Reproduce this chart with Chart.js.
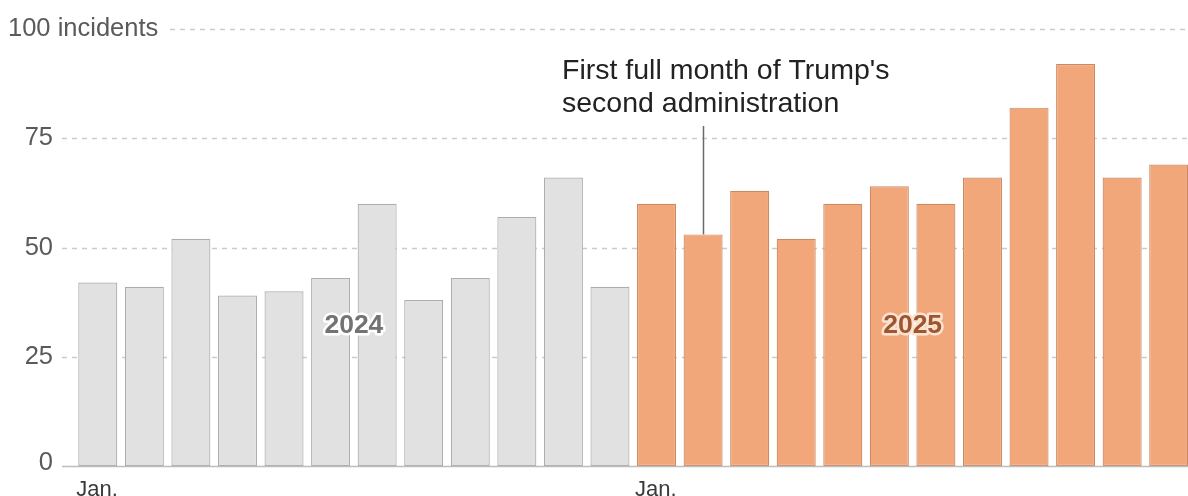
<!DOCTYPE html>
<html>
<head>
<meta charset="utf-8">
<script src="https://cdn.jsdelivr.net/npm/chart.js@4.4.1/dist/chart.umd.min.js"></script>
<style>
html,body{margin:0;padding:0;background:#fff;overflow:hidden;}
#wrap{width:1192px;height:496px;}
</style>
</head>
<body>
<div id="wrap"><canvas id="c" width="1192" height="496"></canvas></div>
<script>
const months = ["Jan.","Feb.","Mar.","Apr.","May","Jun.","Jul.","Aug.","Sep.","Oct.","Nov.","Dec."];
const values2024 = [42,41,52,39,40,43,60,38,43,57,66,41];
const values2025 = [60,53,63,52,60,64,60,66,82,92,66,69];
const yTicks = [0,25,50,75,100];
const yTickLabels = ["0","25","50","75","100 incidents"];
const xTickLabels = {0:"Jan.",12:"Jan."};
const yearLabels = [{text:"2024", at:5.5, y:32, color:"#737373", halo:"#ffffff"},
                    {text:"2025", at:17.5, y:32, color:"#9e5530", halo:"#fbe3d2"}];
const annotationLines = ["First full month of Trump's","second administration"];
const annotationIndex = 13;

const categories = [...months.map(m=>m+" 2024"), ...months.map(m=>m+" 2025")];
const allValues = [...values2024, ...values2025];
const fills = [...values2024.map(()=>"#e1e1e1"), ...values2025.map(()=>"#f1a779")];
const borders = [...values2024.map(()=>"#adadad"), ...values2025.map(()=>"#cc8a62")];

const FONT = '"Liberation Sans", Arial, sans-serif';

const decor = {
  id:'decor',
  beforeDatasetsDraw(chart){
    const ctx = chart.ctx, y = chart.scales.y, right = chart.width;
    ctx.save();
    ctx.strokeStyle = '#cbcbcb';
    ctx.lineWidth = 1.5;
    ctx.setLineDash([5,5]);
    yTicks.forEach((v,i)=>{
      if(v===0) return;
      const py = Math.round(y.getPixelForValue(v))+0.5;
      const x0 = (v===100) ? 170 : 62;
      ctx.beginPath(); ctx.moveTo(x0,py); ctx.lineTo(right,py); ctx.stroke();
    });
    ctx.restore();
  },
  afterDatasetsDraw(chart){
    const ctx = chart.ctx, y = chart.scales.y, x = chart.scales.x, right = chart.width;
    ctx.save();
    // zero line
    const py0 = Math.round(y.getPixelForValue(0))+0.5;
    ctx.strokeStyle = '#bdbdbd'; ctx.lineWidth = 1.5;
    ctx.beginPath(); ctx.moveTo(62,py0); ctx.lineTo(right,py0); ctx.stroke();
    // y labels
    ctx.fillStyle = '#5a5a5a';
    ctx.font = '25.5px ' + FONT;
    ctx.textBaseline = 'middle';
    yTicks.forEach((v,i)=>{
      const py = y.getPixelForValue(v);
      if(v===100){ ctx.textAlign='left'; ctx.fillText(yTickLabels[i], 8, py); }
      else { ctx.textAlign='right'; ctx.fillText(yTickLabels[i], 53, py - (v===0?3:0)); }
    });
    // x labels
    const meta = chart.getDatasetMeta(0);
    ctx.fillStyle = '#3a3a3a';
    ctx.font = '22px ' + FONT;
    ctx.textAlign = 'left'; ctx.textBaseline = 'alphabetic';
    Object.keys(xTickLabels).forEach(k=>{
      const bar = meta.data[+k];
      ctx.fillText(xTickLabels[k], bar.x - bar.width/2 - 2, 496);
    });
    // year labels
    ctx.font = 'bold 26.5px ' + FONT;
    ctx.textAlign = 'center'; ctx.textBaseline = 'middle';
    yearLabels.forEach(l=>{
      const px = x.getPixelForValue(l.at);
      const py = y.getPixelForValue(l.y);
      ctx.lineJoin = 'round';
      ctx.strokeStyle = l.halo; ctx.lineWidth = 5;
      ctx.strokeText(l.text, px, py);
      ctx.fillStyle = l.color;
      ctx.fillText(l.text, px, py);
    });
    // annotation
    const ax = Math.round(x.getPixelForValue(annotationIndex))+0.5;
    ctx.strokeStyle = '#6a6a6a'; ctx.lineWidth = 1.5;
    ctx.beginPath(); ctx.moveTo(ax,126); ctx.lineTo(ax, y.getPixelForValue(allValues[annotationIndex])); ctx.stroke();
    ctx.fillStyle = '#222';
    ctx.font = '28.5px ' + FONT;
    ctx.textAlign = 'left'; ctx.textBaseline = 'alphabetic';
    ctx.fillText(annotationLines[0], 562, 79);
    ctx.fillText(annotationLines[1], 562, 112);
    ctx.restore();
  }
};

new Chart(document.getElementById('c'), {
  type:'bar',
  data:{
    labels: categories,
    datasets:[{
      data: allValues,
      backgroundColor: fills,
      borderColor: borders,
      borderWidth: 1.2,
      borderSkipped: false,
      barPercentage: 0.838,
      categoryPercentage: 1.0
    }]
  },
  options:{
    responsive:false,
    devicePixelRatio:1,
    animation:false,
    layout:{padding:{left:74.5, right:0, top:29, bottom:30}},
    plugins:{legend:{display:false}, tooltip:{enabled:false}},
    scales:{
      x:{display:false, offset:true},
      y:{display:false, min:0, max:100}
    }
  },
  plugins:[decor]
});
</script>
</body>
</html>
